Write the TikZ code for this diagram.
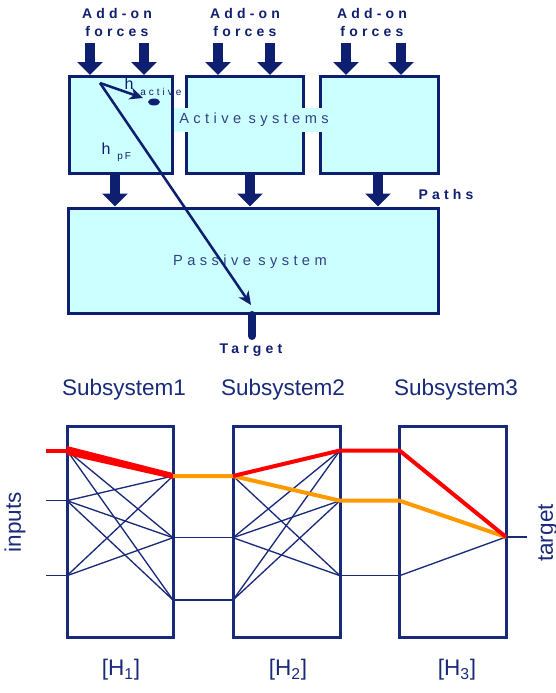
\documentclass[tikz,border=0pt]{standalone}
\usepackage{fontspec}
\setmainfont{Liberation Sans}
\newfontfamily\spaced[LetterSpace=30]{Liberation Sans}
\usetikzlibrary{arrows.meta,positioning,calc}
\definecolor{Navy}{HTML}{0F1F70}
\definecolor{NavyLine}{HTML}{1A2A7A}
\definecolor{Cyan}{HTML}{CCFFFF}
\definecolor{HotRed}{HTML}{FF0000}
\definecolor{Amber}{HTML}{FF9900}

\tikzset{
  sysbox/.style={draw=Navy,fill=Cyan,line width=2.25pt,inner sep=0pt},
  netbox/.style={draw=NavyLine,line width=2.25pt,inner sep=0pt},
  force/.style={draw=Navy,line width=7.5pt,-{Triangle[width=18.75pt,length=9.75pt]}},
  ray/.style={draw=Navy,line width=1.9pt,-{Stealth[width=9pt,length=10pt,inset=3pt]}},
  toplabel/.style={font=\spaced\bfseries\fontsize{10.5pt}{13.5pt}\selectfont,text=Navy,align=center},
  syslabel/.style={font=\spaced\fontsize{11pt}{13pt}\selectfont,text=Navy!85},
  sublabel/.style={font=\fontsize{16.9pt}{20pt}\selectfont,text=NavyLine},
  wire/.style={draw=NavyLine,line width=1pt},
  hotpath/.style={draw=HotRed,line width=3pt},
  warmpath/.style={draw=Amber,line width=3pt},
}

\begin{document}
\begin{tikzpicture}[x=0.75pt,y=-0.75pt]
\useasboundingbox (0,0) rectangle (556,693);

% upper sketch: active and passive systems
\node[sysbox,minimum width=77.25pt,minimum height=72.75pt] (act1) at (121,125) {};
\node[sysbox,minimum width=87.75pt,minimum height=72.75pt] (act2) at (245,125) {};
\node[sysbox,minimum width=88.5pt,minimum height=72.75pt] (act3) at (379.5,125) {};
\node[syslabel,fill=Cyan,inner xsep=4pt,inner ysep=0pt,minimum height=18pt] (actlab) at (254,120) {Active\hspace{0.5em}systems};

\node[toplabel] (add1) at (117,22) {Add-on\\forces};
\node[toplabel] (add2) at (245,22) {Add-on\\forces};
\node[toplabel] (add3) at (372,22) {Add-on\\forces};

\coordinate (f11) at (90,43);
\coordinate (f12) at (144,43);
\coordinate (f21) at (218,43);
\coordinate (f22) at (270,43);
\coordinate (f31) at (346,43);
\coordinate (f32) at (401,43);
\draw[force] (f11) -- (f11 |- act1.north);
\draw[force] (f12) -- (f12 |- act1.north);
\draw[force] (f21) -- (f21 |- act2.north);
\draw[force] (f22) -- (f22 |- act2.north);
\draw[force] (f31) -- (f31 |- act3.north);
\draw[force] (f32) -- (f32 |- act3.north);

\node[sysbox,minimum width=277.5pt,minimum height=79.1pt] (passive) at (253.5,260.75) {};
\node[syslabel] (passlab) at (250,262) {Passive\hspace{0.5em}system};

\coordinate (p1) at (115,0);
\coordinate (p2) at (250,0);
\coordinate (p3) at (378,0);
\draw[force] (p1 |- act1.south) -- (p1 |- passive.north);
\draw[force] (p2 |- act2.south) -- (p2 |- passive.north);
\draw[force] (p3 |- act3.south) -- (p3 |- passive.north);
\node[toplabel] (paths) at (446,194) {Paths};

\coordinate (stub) at (252,336);
\draw[Navy,line width=6pt,line cap=round] (stub |- passive.south) -- (stub);
\node[toplabel] (target) at (251,350) {Target};

\coordinate (hsrc) at (100,83);
\coordinate (htip) at (251,305);
\coordinate (atip) at (143,98);
\draw[ray] (hsrc) -- (htip);
\draw[ray] (hsrc) -- (atip);
\fill[Navy] (154,102) ellipse (4.5pt and 2.6pt);
\node[font=\fontsize{12pt}{13pt}\selectfont,text=Navy,inner sep=0pt] (hact) at (129,84) {h};
\node[font=\spaced\fontsize{7.5pt}{9pt}\selectfont,text=Navy,anchor=west,inner sep=0pt] (hactsub) at (140,92) {active};
\node[font=\fontsize{12pt}{13pt}\selectfont,text=Navy,inner sep=0pt] (hpf) at (106,149) {h};
\node[font=\spaced\fontsize{7.5pt}{9pt}\selectfont,text=Navy,anchor=west,inner sep=0pt] (hpfsub) at (117,157) {p\hspace{0.2em}F};

% lower sketch: chained subsystems
\node[sublabel] (s1) at (124,390) {Subsystem1};
\node[sublabel] (s2) at (283,390) {Subsystem2};
\node[sublabel] (s3) at (456,390) {Subsystem3};
\node[netbox,minimum width=79.5pt,minimum height=157.9pt] (sub1) at (120,531.75) {};
\node[netbox,minimum width=80.25pt,minimum height=157.9pt] (sub2) at (286.5,531.75) {};
\node[netbox,minimum width=79.9pt,minimum height=157.9pt] (sub3) at (452.75,531.75) {};
\node[sublabel] (h1) at (121,670) {[H\textsubscript{1}]};
\node[sublabel] (h2) at (288,670) {[H\textsubscript{2}]};
\node[sublabel] (h3) at (457,670) {[H\textsubscript{3}]};
\node[sublabel,rotate=90] (inputs) at (15,522) {inputs};
\node[sublabel,rotate=90] (tgt) at (548,533) {target};

\coordinate (i1) at (46,450.5);
\coordinate (i2) at (46,500.7);
\coordinate (i3) at (46,575.7);
\coordinate (a1) at (67,450.5);
\coordinate (a2) at (67,500.7);
\coordinate (a3) at (67,575.7);
\coordinate (b1) at (173,476);
\coordinate (b2) at (173,537.7);
\coordinate (b3) at (173,600);
\coordinate (c1) at (233,476);
\coordinate (c2) at (233,537.7);
\coordinate (c3) at (233,600);
\coordinate (d1) at (340,450.5);
\coordinate (d2) at (340,500.7);
\coordinate (d3) at (340,575.7);
\coordinate (e1) at (399.5,450.5);
\coordinate (e2) at (399.5,500.7);
\coordinate (e3) at (399.5,575.7);
\coordinate (t) at (506,537);
\coordinate (tout) at (527,537);

\foreach \u/\v in {a1/b2,a1/b3,a2/b1,a2/b2,a2/b3,a3/b1,a3/b2,
                   c1/d3,c2/d1,c2/d2,c2/d3,c3/d1,c3/d2,
                   i2/a2,i3/a3,b2/c2,b3/c3,d3/e3,e3/t,t/tout}
  \draw[wire] (\u) -- (\v);

\fill[HotRed] ($(a1)+(0,-4.5)$) -- ($(a1)+(0,4.5)$) -- ($(b1)+(0,3)$) -- ($(b1)+(0,-3)$) -- cycle;
\draw[hotpath] (i1) -- (a1);
\draw[warmpath] (b1) -- (c1) -- (d2) -- (e2) -- (t);
\draw[hotpath,line join=round] (c1) -- (d1) -- (e1) -- (t);
\end{tikzpicture}
\end{document}
